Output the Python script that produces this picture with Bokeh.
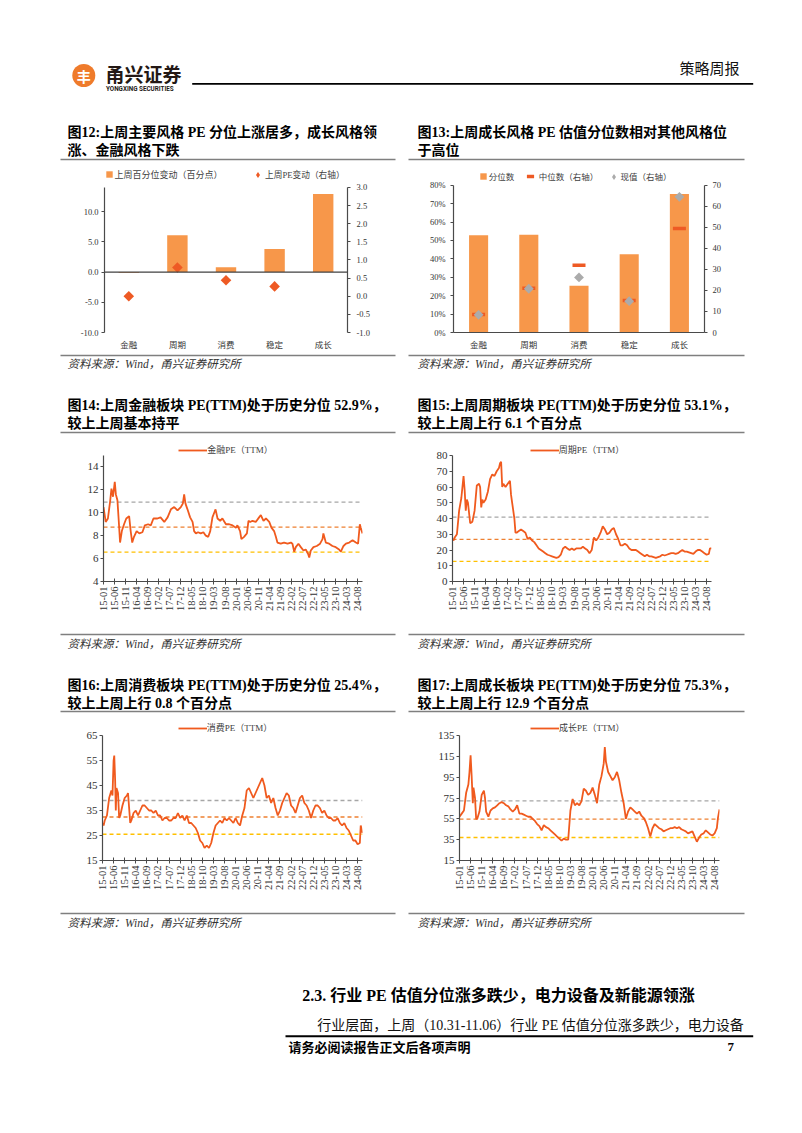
import math
from bokeh.plotting import figure
from bokeh.layouts import column, row
from bokeh.models import (Range1d, FactorRange, LinearAxis, FixedTicker, NumeralTickFormatter,
                          CustomJSTickFormatter, Span, Legend, LegendItem)
from bokeh.core.properties import value
from bokeh.embed import file_html
from bokeh.resources import INLINE

SERIF = "Liberation Serif, Noto Sans CJK SC"
SANS = "Noto Sans CJK SC"

# ---------------- data ----------------
styles = ["金融", "周期", "消费", "稳定", "成长"]
# Fig 12
pct_change = [-0.1, 6.1, 0.8, 3.8, 12.9]          # 上周百分位变动（百分点）
pe_change = [0.0, 0.79, 0.44, 0.27, float("nan")]  # 上周PE变动（右轴）; 成长 not shown on chart
# Fig 13
pct_rank = [0.529, 0.531, 0.254, 0.425, 0.753]     # 分位数
median_pe = [8.6, 21.0, 32.0, 15.2, 49.5]          # 中位数（右轴）
current_pe = [8.4, 20.8, 26.2, 14.9, 64.5]         # 现值（右轴）

month_ticks = ["15-01", "15-06", "15-11", "16-04", "16-09", "17-02", "17-07", "17-12",
               "18-05", "18-10", "19-03", "19-08", "20-01", "20-06", "20-11", "21-04",
               "21-09", "22-02", "22-07", "22-12", "23-05", "23-10", "24-03", "24-08"]

# (months since 2015-01, PE)
fin_pe = [(0,10.5),(1,9.2),(2,9.5),(3,11.0),(3.6,12.1),(4.3,11.4),(5.1,12.7),(5.6,11.6),(6.3,11.1),(7.0,9.0),
          (7.5,7.4),(8.3,8.4),(9.3,9.0),(10.3,9.5),(11.6,9.7),(12.3,8.4),(13.0,7.4),(13.8,7.9),(15.0,8.4),(16.2,8.2),
          (17.6,8.3),(18.7,8.9),(20.2,9.0),(21.4,8.9),(22.6,9.5),(24.4,9.5),(25.8,9.6),(27.5,9.2),(29.0,9.6),(30.5,10.3),
          (32.0,10.5),(33.5,10.2),(35.0,10.5),(35.9,10.8),(36.5,11.6),(37.1,10.8),(38.0,10.3),(39.2,9.6),(40.3,9.2),(41.0,8.4),
          (41.8,8.2),(42.8,8.3),(44.0,8.2),(45.2,8.3),(46.3,8.0),(47.4,7.9),(48.3,8.4),(49.3,9.6),(50.1,10.0),(50.7,10.3),
          (51.6,9.5),(52.8,9.3),(53.8,9.5),(55.4,9.0),(56.9,9.0),(58.4,8.9),(59.9,8.7),(60.6,8.9),(61.8,8.4),(62.4,7.7),
          (63.6,7.9),(64.9,8.2),(65.6,9.3),(66.4,9.2),(67.4,9.3),(68.9,9.2),(70.4,9.6),(71.2,9.8),(72.4,9.3),(73.5,9.5),
          (75.0,9.2),(76.0,8.7),(77.2,8.4),(78.0,7.9),(78.7,7.4),(80.2,7.3),(81.7,7.4),(83.3,7.3),(84.8,7.4),(85.5,7.3),
          (86.3,6.6),(87.0,7.0),(88.2,7.3),(89.3,7.0),(90.5,6.7),(91.5,6.8),(92.6,6.4),(93.1,6.1),(93.8,6.7),(95.0,7.0),
          (96.5,7.1),(98.0,7.3),(99.1,7.7),(99.5,8.2),(100.6,7.4),(102.1,7.3),(103.6,7.1),(105.1,7.0),(106.6,6.8),(107.4,6.6),
          (108.6,7.1),(109.7,7.3),(111.2,7.4),(112.7,7.6),(114.2,7.4),(115.2,7.3),(116.0,9.0),(116.4,8.7),(117.2,8.2)]
fin_bands = [10.93, 8.74, 6.57]

cyc_pe = [(0,27),(0.5,26),(1,28),(2,30),(3,45),(4,53),(5,67),(5.5,58),(6,45),(6.5,52),(7,50),(8,37),(9,38),(10,45),
          (11,61),(12,62),(12.5,60),(13,47),(13.5,52),(14,50),(15,52),(16,57),(17,65),(18,68),(19,67),(20,70),(21,72),
          (21.5,75),(22,76),(22.5,60),(23,62),(24,60),(25,62),(26,64),(26.5,55),(27,50),(28,40),(28.5,31),(29,31),(30,32),
          (31,33),(32,32),(33,31),(34,27),(35,28),(36,26),(37,25),(38,23),(39,21),(40,20),(41,19),(42,18),(43,17),(44,16.5),
          (45,16),(46,15.5),(47,15),(48,15.5),(49,17),(50,21),(51,22),(52,21),(53,20),(54,21),(55,20),(56,21),(57,21),
          (58,21),(59,22),(60,21),(61,20),(62,18),(63,20),(64,28),(65,26),(66,28),(67,31),(68,35),(69,33),(70,30),(71,31),
          (72,33),(73,34),(74,30),(75,27),(76,23),(77,23),(78,24),(79,23),(80,21),(81,20),(82,20),(83,20),(84,19),(85,18),
          (86,17),(87,16),(88,17),(89,16),(90,16),(91,15.5),(92,15),(93,15.5),(94,16),(95,17),(96,16.5),(97,17),(98,17.5),
          (99,18),(100,18),(101,17.5),(102,18),(103,19),(104,20),(105,19),(106,19),(107,18.5),(108,18),(109,17.5),(110,19),
          (111,20),(112,20),(113,19),(114,18),(115,17),(116,17.5),(116.5,21),(117.2,21)]
cyc_bands = [40.9, 26.8, 12.8]

con_pe = [(0,30),(0.5,29),(1,31),(2,33),(3,40),(4,43),(4.5,41),(5,55),(5.3,57),(5.7,47),(6,35),(6.3,44),(7,42),(7.5,32),
          (8,33),(9,37),(10,40),(11,41),(11.5,42),(12,36),(12.5,30),(13,31),(14,34),(15,35),(16,33),(17,35),(18,37),(19,37),
          (20,36),(21,35),(22,35),(23,34),(24,35),(25,33),(26,33),(27,31),(28,32),(29,32),(30,31),(31,31),(32,32),(33,32),
          (34,34),(35,32),(36,33),(37,31),(38,33),(39,30),(40,30),(41,29),(42,28),(43,26),(44,23),(45,22),(46,20),(47,21),
          (48,20),(49,22),(50,26),(51,29),(52,30),(53,31),(54,30),(55,32),(56,31),(57,32),(58,31),(59,30),(60,32),(61,30),
          (62,29),(63,33),(64,36),(65,43),(66,44),(67,42),(68,40),(69,42),(70,44),(71,46),(72,48),(73,45),(74,40),(75,41),
          (76,38),(77,40),(78,36),(79,33),(80,35),(81,38),(82,40),(83,42),(84,41),(85,37),(86,36),(87,34),(88,37),(89,40),
          (90,41),(91,38),(92,37),(93,35),(94,32),(95,35),(96,37),(97,37),(98,36),(99,34),(100,35),(101,33),(102,32),
          (103,32),(104,31),(105,31),(106,32),(107,30),(108,29),(109,30),(110,28),(111,27),(112,25),(113,23),(114,23),
          (115,21.5),(116,22),(116.4,29),(117.2,26)]
con_bands = [39.0, 32.4, 25.5]

gro_pe = [(0,57),(1,60),(2,63),(3,80),(4,88),(4.5,100),(5,116),(5.5,95),(6,70),(6.3,85),(7,75),(7.5,55),(8,55),(9,62),
          (10,78),(11,82),(11.5,75),(12,62),(13,57),(14,63),(15,65),(16,66),(17,68),(18,70),(19,71),(20,70),(21,68),(22,67),
          (23,64),(24,62),(25,64),(26,68),(27,60),(28,60),(29,59),(30,58),(31,57),(32,57),(33,55),(34,53),(35,50),(36,48),
          (37,44),(38,49),(39,47),(40,46),(41,44),(42,42),(43,40),(44,38),(45,36),(46,34),(47,36),(48,35),(49,35),(50,63),
          (51,74),(52,68),(53,70),(54,68),(55,72),(56,84),(57,82),(58,78),(59,80),(60,85),(61,78),(62,70),(63,88),(64,96),
          (65,108),(65.5,124),(66,110),(67,100),(68,96),(69,92),(70,95),(71,100),(72,92),(73,80),(74,70),(75,55),(76,62),
          (77,66),(78,64),(79,62),(80,60),(81,62),(82,58),(83,56),(84,52),(85,46),(86,38),(87,46),(88,50),(89,48),(90,46),
          (91,45),(92,43),(93,44),(94,45),(95,46),(96,46),(97,47),(98,46),(99,47),(100,45),(101,44),(102,43),(103,41),
          (104,42),(105,43),(106,38),(107,33),(108,37),(109,40),(110,41),(111,44),(112,42),(113,40),(114,39),(115,41),
          (116,46),(116.5,56),(117.2,64)]
gro_bands = [72.3, 54.7, 37.1]

# ---------------- styles ----------------
LINE = "#F05A1E"
BAR = "#F7974A"
RED = "#EE5A24"
GRAY_PT = "#ABABAB"
AXIS = "#4A4A4A"
TICKTXT = "#333333"
BAND_COLORS = ["#A6A6A6", "#EE8030", "#FFC000"]
PAGE_W = 794


def band(top, bottom):
    p = figure(width=PAGE_W, height=bottom - top, x_range=Range1d(0, PAGE_W), y_range=Range1d(bottom, top),
               x_axis_type=None, y_axis_type=None, output_backend="svg", toolbar_location=None,
               min_border_left=0, min_border_right=0, min_border_top=0, min_border_bottom=0,
               outline_line_color=None)
    p.grid.visible = False
    return p


def put(p, x, y, s, size, font=SERIF, style="normal", color="#000000", align="left"):
    p.text(x=[x], y=[y], text=[s], text_font=value(font), text_font_size=f"{size}px",
           text_font_style=style, text_color=color, text_align=align, text_baseline="middle")


def hline(p, x0, x1, y, w=1.6, color="#7F7F7F"):
    p.segment(x0=[x0], y0=[y], x1=[x1], y1=[y], line_color=color, line_width=w)


def style_axis(ax, size, tick_out=3, standoff=3):
    ax.major_label_text_font = SERIF
    ax.major_label_text_font_size = size
    ax.major_label_text_color = TICKTXT
    ax.axis_line_color = AXIS
    ax.axis_line_width = 1.2
    ax.major_tick_line_color = AXIS
    ax.minor_tick_line_color = None
    ax.major_tick_in = 0
    ax.major_tick_out = tick_out
    ax.major_label_standoff = standoff


def add_leg(p, rs, label, x, y_center, gw, gh, size):
    # location = legend's bottom-left corner, in px from the frame's bottom-left
    h = max(gh, 12)
    leg = Legend(items=[LegendItem(label=value(label), renderers=rs)], location=(x, y_center - h / 2),
                 orientation="horizontal", border_line_color=None, background_fill_alpha=0,
                 padding=0, margin=0, glyph_width=gw, glyph_height=gh, label_height=h,
                 label_standoff=2 if gw < 14 else 0, label_text_font=SERIF,
                 label_text_font_size=f"{size}px", label_text_color="#404040")
    p.add_layout(leg)


def cat_chart(width, height, bl, br, bt, bb, yr):
    p = figure(width=width, height=height, x_range=FactorRange(*styles), y_range=Range1d(*yr),
               output_backend="svg", toolbar_location=None, min_border_left=bl, min_border_right=br,
               min_border_top=bt, min_border_bottom=bb, outline_line_color=None)
    p.grid.visible = False
    return p


def diamond_key(p, color, y_range_name):
    # legend key only: a single NaN point (not drawn on the chart), shown as a diamond in the legend
    return p.scatter(x=[styles[0]], y=[float("nan")], marker="diamond", size=7, fill_color=color,
                     line_color=None, y_range_name=y_range_name)


# ---------------- Fig 12 ----------------
# frame extends above the axes' top so that the legend sits inside it; axes are bounded.
p12 = cat_chart(400, 189, 104, 53, 5, 19, (-10, 17.12))
p12.extra_y_ranges = {"r": Range1d(-1, 3.52)}
b12 = p12.vbar(x=styles, top=pct_change, width=0.42, fill_color=BAR, line_color=None)
d12 = p12.scatter(x=styles, y=pe_change, marker="square", angle=math.pi / 4, size=7.5,
                  fill_color=RED, line_color=None, y_range_name="r")
k12 = diamond_key(p12, RED, "r")
p12.add_layout(Span(location=0, dimension="width", line_color="#404040", line_width=1.2))
p12.yaxis.ticker = FixedTicker(ticks=[-10, -5, 0, 5, 10])
p12.yaxis.formatter = NumeralTickFormatter(format="0.0")
p12.yaxis.bounds = (-10, 14)
style_axis(p12.yaxis[0], "8.5px", 3, 3)
r12 = LinearAxis(y_range_name="r", ticker=FixedTicker(ticks=[-1, -0.5, 0, 0.5, 1, 1.5, 2, 2.5, 3]),
                 formatter=NumeralTickFormatter(format="0.0"), bounds=(-1, 3))
style_axis(r12, "8.5px", 3, 6)
p12.add_layout(r12, "right")
style_axis(p12.xaxis[0], "8.5px", 0, 7)
p12.xaxis.axis_line_color = None
p12.xaxis.major_tick_line_color = None
add_leg(p12, [b12], "上周百分位变动（百分点）", 0.5, 157.3, 8, 8, 9)
add_leg(p12, [k12], "上周PE变动（右轴）", 146, 157.3, 15, 15, 8.7)

# ---------------- Fig 13 ----------------
p13 = cat_chart(394, 189, 53, 90, 4, 19, (0, 0.8913))
p13.extra_y_ranges = {"r": Range1d(0, 77.99)}
b13 = p13.vbar(x=styles, top=pct_rank, width=0.38, fill_color=BAR, line_color=None)
m13 = p13.scatter(x=styles, y=median_pe, marker="dash", size=13, line_width=3.5, line_color=RED,
                  y_range_name="r")
c13 = p13.scatter(x=styles, y=current_pe, marker="square", angle=math.pi / 4, size=7,
                  fill_color=GRAY_PT, line_color=None, y_range_name="r")
k13 = diamond_key(p13, GRAY_PT, "r")
p13.yaxis.ticker = FixedTicker(ticks=[0, 0.1, 0.2, 0.3, 0.4, 0.5, 0.6, 0.7, 0.8])
p13.yaxis.formatter = NumeralTickFormatter(format="0%")
p13.yaxis.bounds = (0, 0.8)
style_axis(p13.yaxis[0], "8.5px", 3, 5)
r13 = LinearAxis(y_range_name="r", ticker=FixedTicker(ticks=[0, 10, 20, 30, 40, 50, 60, 70]), bounds=(0, 70))
style_axis(r13, "8.5px", 3, 5)
p13.add_layout(r13, "right")
style_axis(p13.xaxis[0], "8.5px", 0, 7)
p13.xaxis.major_tick_line_color = None
add_leg(p13, [b13], "分位数", 25.7, 156, 8, 8, 8.5)
add_leg(p13, [m13], "中位数（右轴）", 67.7, 156, 18, 18, 8.5)
add_leg(p13, [k13], "现值（右轴）", 152.5, 156, 15, 15, 8.5)


# ---------------- PE line charts ----------------
def pe_chart(series, bands, name, yr, ytop, yticks, width, bl, br, bt, bb, height, leg_x, leg_c):
    t = [a for a, _ in series]
    v = [b for _, b in series]
    p = figure(width=width, height=height, x_range=Range1d(0, 117.2), y_range=Range1d(yr[0], ytop),
               output_backend="svg", toolbar_location=None, min_border_left=bl, min_border_right=br,
               min_border_top=bt, min_border_bottom=bb, outline_line_color=None)
    p.grid.visible = False
    for val, col in zip(bands, BAND_COLORS):
        p.add_layout(Span(location=val, dimension="width", line_color=col, line_dash="4 3",
                          line_width=1.3, level="underlay"))
    r = p.line(t, v, line_color=LINE, line_width=1.8)
    p.yaxis.ticker = FixedTicker(ticks=yticks)
    p.yaxis.bounds = yr
    style_axis(p.yaxis[0], "11px", 3, 2)
    p.xaxis.ticker = FixedTicker(ticks=[5 * i for i in range(len(month_ticks))])
    p.xaxis.formatter = CustomJSTickFormatter(args=dict(labels=month_ticks),
                                              code="return labels[Math.round(tick / 5)] || '';")
    p.xaxis.major_label_orientation = math.pi / 2
    style_axis(p.xaxis[0], "10.5px", 3, 2)
    p.xaxis.major_tick_in = 3
    add_leg(p, [r], name, leg_x, leg_c, 29, 12, 9)
    return p


p14 = pe_chart(fin_pe, fin_bands, "金融PE（TTM）", (4, 15), 16.222, [4, 6, 8, 10, 12, 14],
               400, 103, 38, 1, 44, 185, 75.3, 131)
p15 = pe_chart(cyc_pe, cyc_bands, "周期PE（TTM）", (0, 80), 88.889, [0, 10, 20, 30, 40, 50, 60, 70, 80],
               394, 52, 83, 1, 44, 185, 77.7, 131)
p16 = pe_chart(con_pe, con_bands, "消费PE（TTM）", (15, 65), 70.6, [15, 25, 35, 45, 55, 65],
               400, 102, 38, 1, 45, 185, 75.7, 131.7)
p17 = pe_chart(gro_pe, gro_bands, "成长PE（TTM）", (15, 135), 148.44, [15, 35, 55, 75, 95, 115, 135],
               394, 59, 75, 1, 45, 185, 71, 131.7)

SRC = "资料来源：Wind，甬兴证券研究所"

# ---------------- Band A: header + titles 12/13 ----------------
bA = band(0, 163)
bA.scatter(x=[83.3], y=[75], marker="circle", size=23, fill_color="#EF7B2B", line_color=None)
put(bA, 83.3, 75.5, "丰", 14, SANS, "bold", "#FFFFFF", "center")
put(bA, 105, 72.5, "甬兴证券", 19, SANS, "bold", "#231815")
put(bA, 105.5, 88.5, "YONGXING SECURITIES", 6.3, "Roboto", "bold", "#231815")
hline(bA, 191.7, 752.7, 83.3, 1.8, "#000000")
put(bA, 679, 68.5, "策略周报", 15, SERIF, "normal", "#111111")
put(bA, 67, 131.7, "图12:上周主要风格 PE 分位上涨居多，成长风格领", 14, SERIF, "bold")
put(bA, 67, 150, "涨、金融风格下跌", 14, SERIF, "bold")
put(bA, 417, 131.7, "图13:上周成长风格 PE 估值分位数相对其他风格位", 14, SERIF, "bold")
put(bA, 417, 150, "于高位", 14, SERIF, "bold")
hline(bA, 60, 395, 159)
hline(bA, 408, 744, 159)

# ---------------- Band C ----------------
bC = band(352, 440)
hline(bC, 60, 395, 355)
hline(bC, 408, 744, 355)
put(bC, 67, 363.5, SRC, 11.5, SERIF, "italic", "#333333")
put(bC, 417, 363.5, SRC, 11.5, SERIF, "italic", "#333333")
put(bC, 67, 405, "图14:上周金融板块 PE(TTM)处于历史分位 52.9%，", 14, SERIF, "bold")
put(bC, 67, 423.3, "较上上周基本持平", 14, SERIF, "bold")
put(bC, 417, 405, "图15:上周周期板块 PE(TTM)处于历史分位 53.1%，", 14, SERIF, "bold")
put(bC, 417, 423.3, "较上上周上行 6.1 个百分点", 14, SERIF, "bold")
hline(bC, 60, 395, 432)
hline(bC, 408, 744, 432)

# ---------------- Band E ----------------
bE = band(625, 720)
hline(bE, 60, 395, 634)
hline(bE, 408, 744, 634)
put(bE, 67, 643, SRC, 11.5, SERIF, "italic", "#333333")
put(bE, 417, 643, SRC, 11.5, SERIF, "italic", "#333333")
put(bE, 67, 685, "图16:上周消费板块 PE(TTM)处于历史分位 25.4%，", 14, SERIF, "bold")
put(bE, 67, 703.3, "较上上周上行 0.8 个百分点", 14, SERIF, "bold")
put(bE, 417, 685, "图17:上周成长板块 PE(TTM)处于历史分位 75.3%，", 14, SERIF, "bold")
put(bE, 417, 703.3, "较上上周上行 12.9 个百分点", 14, SERIF, "bold")
hline(bE, 60, 395, 711)
hline(bE, 408, 744, 711)

# ---------------- Band G: sources + section text + footer ----------------
bG = band(905, 1125)
hline(bG, 60, 395, 913)
hline(bG, 408, 744, 913)
put(bG, 67, 922, SRC, 11.5, SERIF, "italic", "#333333")
put(bG, 417, 922, SRC, 11.5, SERIF, "italic", "#333333")
put(bG, 301.7, 995, "2.3. 行业 PE 估值分位涨多跌少，电力设备及新能源领涨", 16, SERIF, "bold")
put(bG, 316.7, 1025, "行业层面，上周（10.31-11.06）行业 PE 估值分位涨多跌少，电力设备", 14, SERIF, "normal", "#111111")
hline(bG, 285, 752.7, 1035.7, 2, "#000000")
put(bG, 288, 1046.5, "请务必阅读报告正文后各项声明", 13, SERIF, "bold")
put(bG, 727, 1046.5, "7", 13, SERIF, "bold")

layout = column(bA, row(p12, p13), bC, row(p14, p15), bE, row(p16, p17), bG)

with open("out.html", "w") as f:
    f.write(file_html(layout, INLINE, title="策略周报"))
